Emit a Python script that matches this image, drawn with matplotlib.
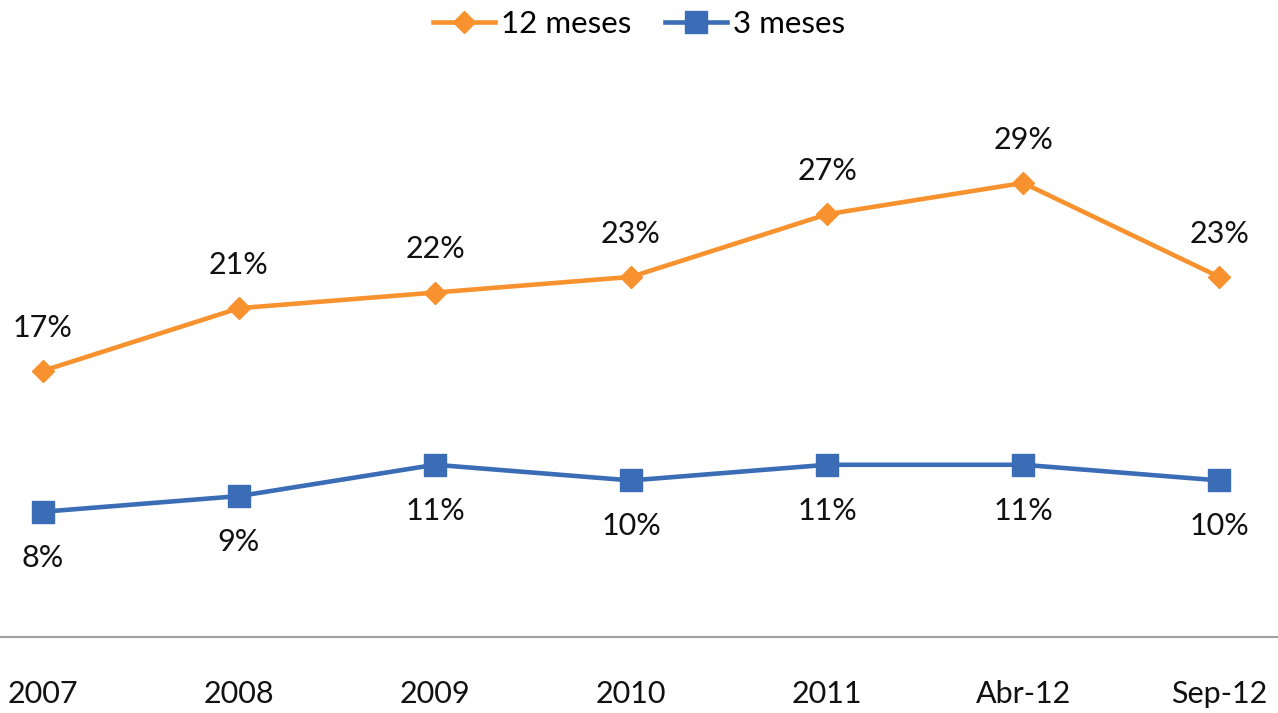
import matplotlib.pyplot as plt

plt.rcParams['font.family'] = ['Lato', 'DejaVu Sans']

categories = ["2007", "2008", "2009", "2010", "2011", "Abr-12", "Sep-12"]
meses_12 = [17, 21, 22, 23, 27, 29, 23]
meses_3 = [8, 9, 11, 10, 11, 11, 10]

orange = "#F7922F"
blue = "#3A6DB5"

fig = plt.figure(figsize=(12.78, 7.13), dpi=100)
ax = fig.add_axes([0, 76 / 713, 1, 548 / 713])

x = range(len(categories))
ax.plot(x, meses_12, color=orange, lw=3.3, marker="D", ms=11.5, label="12 meses")
ax.plot(x, meses_3, color=blue, lw=3.3, marker="s", ms=15.5, label="3 meses")

# data labels
for i, v in enumerate(meses_12):
    ax.annotate(f"{v}%", (i, v), xytext=(0, 31), textcoords="offset points",
                ha="center", va="center", fontsize=22, color="#111111")
for i, v in enumerate(meses_3):
    ax.annotate(f"{v}%", (i, v), xytext=(0, -33), textcoords="offset points",
                ha="center", va="center", fontsize=22, color="#111111")

ax.set_xlim(-0.219, 6.30)
ax.set_ylim(0, 35)
ax.set_xticks(list(x))
ax.set_xticklabels(categories, fontsize=22, color="#111111")
ax.tick_params(axis="x", length=0, pad=31)
ax.set_yticks([])
for side in ["top", "right", "left"]:
    ax.spines[side].set_visible(False)
ax.spines["bottom"].set_color("#A0A0A0")
ax.spines["bottom"].set_linewidth(1.5)

fig.legend(loc="center", bbox_to_anchor=(0.5, 1 - 24 / 713), ncol=2, frameon=False,
           fontsize=22.5, handlelength=2.0, handletextpad=0.2, columnspacing=1.05)

fig.savefig("out.png", dpi=100)
